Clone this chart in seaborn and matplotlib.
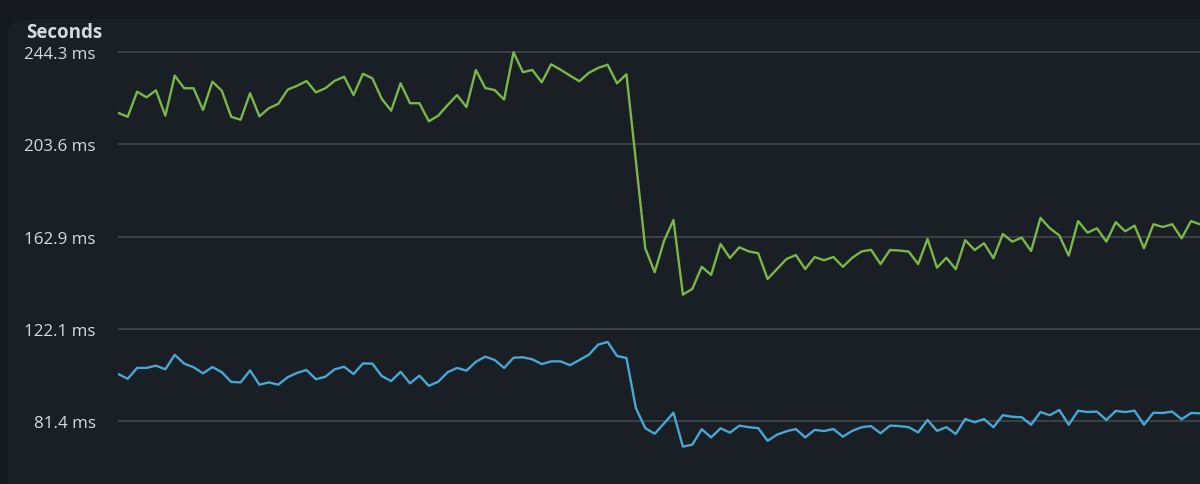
import numpy as np
import pandas as pd
import matplotlib
matplotlib.use("Agg")
import matplotlib.pyplot as plt
from matplotlib.patches import FancyBboxPatch
import seaborn as sns

# ---- data (ms) ----
green_ms = [
    217.5, 215.8, 226.9, 224.4, 227.5, 216.3, 234.0, 228.4, 228.4, 218.8,
    231.3, 227.3, 215.8, 214.5, 226.2, 216.0, 219.6, 221.5, 227.8, 229.5,
    231.6, 226.6, 228.4, 231.7, 233.5, 225.4, 234.8, 232.8, 223.7, 218.5,
    230.6, 221.8, 221.8, 213.8, 216.3, 221.0, 225.4, 220.1, 236.5, 228.5,
    227.6, 223.4, 244.3, 235.5, 236.5, 231.0, 239.0, 236.6, 234.0, 231.5,
    235.2, 237.4, 238.8, 230.6, 234.6, 196.3, 157.7, 147.1, 161.0, 170.2,
    137.2, 139.7, 149.5, 145.9, 159.6, 153.4, 158.1, 156.3, 155.5, 144.1,
    148.5, 152.9, 154.7, 148.5, 153.8, 152.4, 153.8, 149.5, 153.5, 156.3,
    157.0, 150.7, 156.9, 156.7, 156.2, 150.7, 161.8, 149.1, 153.5, 148.4,
    161.3, 156.9, 159.9, 153.3, 164.0, 160.6, 162.4, 156.5, 171.1, 166.5,
    163.4, 154.4, 169.7, 164.6, 166.5, 160.6, 169.2, 165.2, 167.7, 157.7,
    168.3, 167.1, 168.3, 162.1, 169.7, 168.2,
]
blue_ms = [
    102.1, 100.0, 104.8, 104.8, 105.8, 104.2, 110.6, 106.7, 105.1, 102.4,
    105.2, 102.9, 98.6, 98.4, 103.7, 97.4, 98.4, 97.4, 100.7, 102.6,
    103.9, 99.8, 100.9, 104.2, 105.3, 102.1, 106.8, 106.7, 101.2, 99.0,
    103.1, 98.0, 101.4, 96.9, 98.7, 102.9, 104.8, 103.6, 107.5, 109.8,
    108.3, 104.8, 109.3, 109.5, 108.6, 106.5, 107.7, 107.7, 106.0, 108.3,
    110.6, 115.1, 116.3, 110.1, 109.2, 87.1, 78.2, 75.7, 80.3, 85.0,
    70.0, 70.9, 77.7, 74.1, 78.1, 76.2, 79.3, 78.6, 78.2, 72.6,
    75.3, 76.8, 77.8, 74.1, 77.4, 76.9, 77.8, 74.4, 77.0, 78.6,
    79.1, 75.9, 79.3, 79.1, 78.6, 76.3, 81.8, 77.0, 78.6, 75.6,
    82.2, 80.8, 82.2, 78.6, 83.9, 83.2, 83.0, 79.7, 85.3, 83.9,
    86.2, 79.7, 85.9, 85.3, 85.5, 81.8, 85.8, 85.3, 85.9, 79.7,
    85.0, 84.9, 85.5, 82.1, 84.9, 84.7,
]
tick_values = [81.43, 122.15, 162.87, 203.58, 244.3]
tick_labels = ["81.4 ms", "122.1 ms", "162.9 ms", "203.6 ms", "244.3 ms"]
series_names = ["p90", "p50"]
title_text = "Seconds"

# ---- styling ----
BG_OUT = "#161a20"
BG = "#1a1e25"
GRID = "#3f434a"
TEXT = "#d6dade"
GREEN = "#7ab648"
BLUE = "#49a7d4"

sns.set_style("dark")
plt.rcParams["font.family"] = ["Open Sans", "DejaVu Sans"]

W, H = 1200, 485
fig = plt.figure(figsize=(W / 100, H / 100), dpi=100)
fig.patch.set_facecolor(BG_OUT)
panel = FancyBboxPatch((8 / W, -0.2), 1.2, (H - 20) / H + 0.2,
                       boxstyle="round,pad=0,rounding_size=0.025",
                       transform=fig.transFigure, facecolor=BG,
                       edgecolor="none", zorder=-10)
fig.patches.append(panel)

ax_left = 118.3 / W
ax_top_px = 40
ax = fig.add_axes([ax_left, 0, 1 - ax_left, (H - ax_top_px) / H])
ax.set_facecolor("none")
ax.set_zorder(5)

n = len(green_ms)
df = pd.DataFrame({
    "idx": list(range(n)) * 2,
    "value": green_ms + blue_ms,
    "series": [series_names[0]] * n + [series_names[1]] * n,
})
sns.lineplot(data=df, x="idx", y="value", hue="series",
             palette={series_names[0]: GREEN, series_names[1]: BLUE},
             linewidth=1.7, legend=False, ax=ax, zorder=3)

px_per_idx = 9.41
ax.set_xlim(0, (W - 118.3) / px_per_idx)
px_per_ms = (421.8 - 53.3) / (244.3 - 81.43)
ax.set_ylim(244.3 - (H - 53.3) / px_per_ms, 244.3 + (53.3 - ax_top_px) / px_per_ms)

ax.set_yticks(tick_values)
ax.set_yticklabels(tick_labels)
ax.set_xticks([])
ax.set_xlabel("")
ax.set_ylabel("")
ax.grid(axis="y", color=GRID, linewidth=1.3)
ax.grid(axis="x", visible=False)
ax.tick_params(axis="y", length=0, pad=(118.3 - 96) * 0.72,
               labelsize=12.2, labelcolor=TEXT)
for lab in ax.get_yticklabels():
    lab.set_horizontalalignment("right")
for s in ax.spines.values():
    s.set_visible(False)

fig.text(26 / W, 1 - 33 / H, title_text, color=TEXT, fontsize=13.5,
         fontweight="bold", ha="left", va="center", zorder=10)

fig.savefig("out.png", dpi=100, facecolor=fig.get_facecolor())
